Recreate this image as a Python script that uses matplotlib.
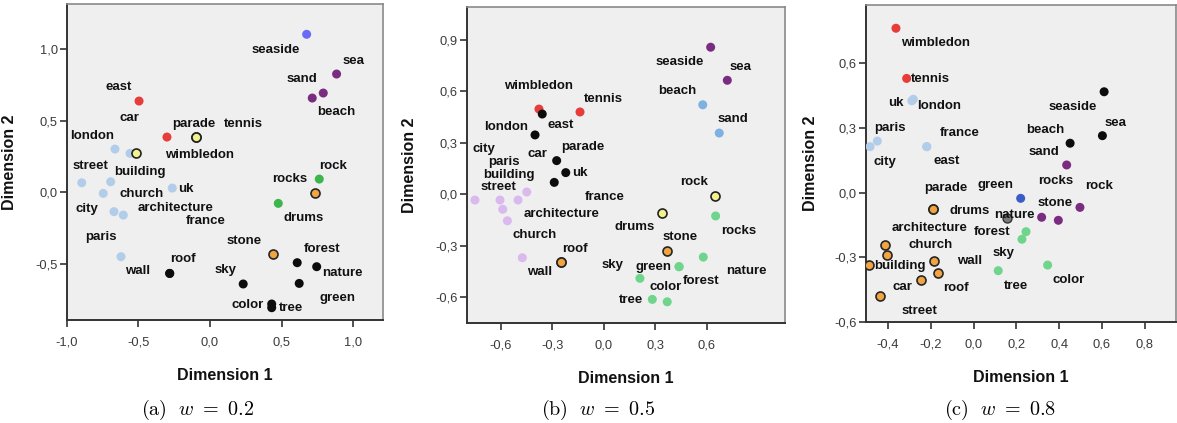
import matplotlib
matplotlib.use("Agg")
import matplotlib.pyplot as plt
from matplotlib.ticker import FixedLocator, FuncFormatter

# ---------------- data ----------------
# panel (a) w = 0.2
words_a = ["seaside", "sea", "sand", "beach", "east", "car", "parade", "tennis", "wimbledon",
           "london", "building", "street", "church", "city", "uk", "architecture", "france", "paris",
           "roof", "wall", "sky", "color", "tree", "forest", "nature", "green",
           "stone", "rocks", "rock", "drums"]
dim1_a = [0.675, 0.884, 0.714, 0.791, -0.495, -0.300, -0.100, -0.100, -0.516,
          -0.663, -0.558, -0.895, -0.693, -0.745, -0.263, -0.670, -0.605, -0.621,
          -0.281, -0.281, 0.232, 0.431, 0.431, 0.609, 0.745, 0.623,
          0.438, 0.733, 0.763, 0.477]
dim2_a = [1.105, 0.827, 0.659, 0.694, 0.638, 0.386, 0.384, 0.384, 0.272,
          0.302, 0.272, 0.066, 0.073, -0.008, 0.029, -0.136, -0.160, -0.451,
          -0.568, -0.568, -0.642, -0.782, -0.808, -0.493, -0.521, -0.638,
          -0.432, -0.003, 0.092, -0.078]
group_a = ["violet", "purple", "purple", "purple", "red", "red", "yellow", "yellow", "yellow",
           "lightblue", "lightblue", "lightblue", "lightblue", "lightblue", "lightblue", "lightblue",
           "lightblue", "lightblue",
           "black", "black", "black", "black", "black", "black", "black", "black",
           "orange", "orange", "green", "green"]

# panel (b) w = 0.5
words_b = ["seaside", "sea", "beach", "sand", "wimbledon", "tennis", "east", "london", "car", "uk",
           "parade", "street", "building", "paris", "city", "architecture", "church", "france",
           "rock", "drums", "stone", "roof", "wall", "rocks", "nature", "forest", "green", "sky",
           "tree", "color"]
dim1_b = [0.623, 0.720, 0.577, 0.673, -0.377, -0.138, -0.358, -0.400, -0.274, -0.221,
          -0.288, -0.604, -0.499, -0.588, -0.750, -0.561, -0.474, -0.448,
          0.648, 0.341, 0.370, -0.249, -0.249, 0.652, 0.580, 0.439, 0.439, 0.211,
          0.283, 0.370]
dim2_b = [0.858, 0.665, 0.522, 0.357, 0.497, 0.480, 0.468, 0.346, 0.196, 0.126,
          0.069, -0.034, -0.034, -0.088, -0.034, -0.155, -0.371, 0.013,
          -0.008, -0.110, -0.330, -0.394, -0.394, -0.127, -0.367, -0.423, -0.423, -0.491,
          -0.614, -0.628]
group_b = ["purple", "purple", "mblue", "mblue", "red", "red", "black", "black", "black", "black",
           "black", "lavender", "lavender", "lavender", "lavender", "lavender", "lavender", "lavender",
           "yellow", "yellow", "orange", "orange", "orange", "lgreen", "lgreen", "lgreen", "lgreen",
           "lgreen", "lgreen", "lgreen"]

# panel (c) w = 0.8
words_c = ["wimbledon", "tennis", "uk", "london", "paris", "city", "france", "east",
           "seaside", "sea", "beach", "sand", "rocks", "stone", "rock", "green", "nature",
           "forest", "sky", "color", "tree", "drums", "parade", "architecture", "church",
           "building", "wall", "roof", "car", "street"]
dim1_c = [-0.363, -0.313, -0.289, -0.282, -0.450, -0.484, -0.219, -0.219,
          0.610, 0.602, 0.451, 0.435, 0.318, 0.396, 0.497, 0.220, 0.155,
          0.245, 0.226, 0.346, 0.115, -0.191, -0.191, -0.414, -0.406,
          -0.489, -0.185, -0.168, -0.247, -0.438]
dim2_c = [0.763, 0.530, 0.426, 0.433, 0.239, 0.213, 0.213, 0.213,
          0.468, 0.264, 0.229, 0.128, -0.115, -0.129, -0.069, -0.027, -0.120,
          -0.182, -0.217, -0.337, -0.363, -0.077, -0.077, -0.244, -0.291,
          -0.338, -0.317, -0.375, -0.406, -0.481]
group_c = ["red", "red", "lightblue", "lightblue", "lightblue", "lightblue", "lightblue", "lightblue",
           "black", "black", "black", "purple", "purple", "purple", "purple", "dblue", "gray",
           "lgreen", "lgreen", "lgreen", "lgreen", "orange", "orange", "orange", "orange",
           "orange", "orange", "orange", "orange", "orange"]

xticks_a = [-1.0, -0.5, 0.0, 0.5, 1.0]
yticks_a = [-0.5, 0.0, 0.5, 1.0]
xticks_b = [-0.6, -0.3, 0.0, 0.3, 0.6]
yticks_b = [-0.6, -0.3, 0.0, 0.3, 0.6, 0.9]
xticks_c = [-0.4, -0.2, 0.0, 0.2, 0.4, 0.6, 0.8]
yticks_c = [-0.6, -0.3, 0.0, 0.3, 0.6]
captions = ["(a)", "(b)", "(c)"]
weights = ["0.2", "0.5", "0.8"]

# ---------------- styles ----------------
# label offsets (pixels: +x right, +y down) relative to the point
offsets_a = {"seaside": (-30.7, 15.7), "sea": (17.3, -13), "sand": (-10.6, -18.7), "beach": (12.7, 19.3),
             "east": (-20, -13.7), "car": (-37.7, -19), "parade": (-1.4, -13.3), "tennis": (47.6, -13.3),
             "wimbledon": (64, 1.7), "london": (-23, -13), "building": (10, 19), "street": (9, -17),
             "church": (31, 12.3), "city": (-16, 15.7), "uk": (13.4, 1.3), "architecture": (61.7, -3.4),
             "france": (82.4, 5.7), "paris": (-20, -19.4), "roof": (13, -14), "wall": (-32, -2.3),
             "sky": (-17.3, -14), "color": (-24, 1), "tree": (19.3, 0), "forest": (24.4, -13.4),
             "nature": (26, 6.6), "green": (38, 15), "stone": (-28.7, -13.3), "rocks": (-25.3, -13.7),
             "rock": (14, -13.3), "drums": (25.7, 15)}
offsets_b = {"seaside": (-30.7, 15), "sea": (13.4, -13.6), "beach": (-25.4, -14), "sand": (14, -14),
             "wimbledon": (-0.7, -22.7), "tennis": (23.3, -13.3), "east": (18.4, 11), "london": (-29, -7.7),
             "car": (-19.7, -6.7), "uk": (14.3, 0.3), "parade": (28.4, -35.3), "street": (-1.7, -13.3),
             "building": (-9.3, -25), "paris": (1.3, -47.3), "city": (9.3, -50.7),
             "architecture": (54, -6.7), "church": (12.4, -22.7), "france": (77.6, 5.3),
             "rock": (-21.3, -13.5), "drums": (-28, 14), "stone": (13, -13.4), "roof": (13.7, -13),
             "wall": (-21.3, 10.6), "rocks": (23.3, 14.7), "nature": (42.7, 14.3), "forest": (22.3, 14.3),
             "green": (-25.7, 0), "sky": (-27, -13), "tree": (-21.3, 0.4), "color": (-1.6, -14.4)}
offsets_c = {"wimbledon": (40, 14.4), "tennis": (23.3, 1), "uk": (-15.7, 2), "london": (26, 6.7),
             "paris": (12.7, -13.3), "city": (15.3, 15.6), "france": (32.6, -13.4), "east": (20, 14.3),
             "seaside": (-31.3, 15), "sea": (13.4, -13), "beach": (-25, -13.3), "sand": (-22.7, -12.7),
             "rocks": (14, -36.3), "stone": (-3.3, -17), "rock": (19.3, -21.3), "green": (-24.7, -13),
             "nature": (7.6, -3.3), "forest": (-33.7, 0.6), "sky": (-18.3, 13.7), "color": (21, 15),
             "tree": (17.7, 15.3), "drums": (37.3, 1.7), "parade": (13.3, -21.3),
             "architecture": (45, -16.7), "church": (44, -10), "building": (31, 0.7), "wall": (35.7, 0.6),
             "roof": (18.6, 14.4), "car": (-18, 7.3), "street": (39.3, 15)}

STYLE = {
    "lightblue": dict(fc="#b2cdea", ec="none", lw=0),
    "red": dict(fc="#e63c3a", ec="none", lw=0),
    "black": dict(fc="#0c0c0c", ec="none", lw=0),
    "purple": dict(fc="#7a2d80", ec="none", lw=0),
    "violet": dict(fc="#6a6af6", ec="none", lw=0),
    "green": dict(fc="#3cb54c", ec="none", lw=0),
    "lgreen": dict(fc="#6fd48c", ec="none", lw=0),
    "orange": dict(fc="#f2a441", ec="#262626", lw=1.2),
    "yellow": dict(fc="#f4f28c", ec="#222222", lw=1.2),
    "lavender": dict(fc="#dab9ee", ec="none", lw=0),
    "mblue": dict(fc="#7eb0e2", ec="none", lw=0),
    "dblue": dict(fc="#3a5cc6", ec="none", lw=0),
    "gray": dict(fc="#7a7a7a", ec="#333333", lw=1.0),
}
ZORD = {"orange": 4, "yellow": 4, "gray": 2}

W, H = 1177, 423
plt.rcParams["font.family"] = ["Liberation Sans", "DejaVu Sans"]
plt.rcParams["mathtext.fontset"] = "cm"

fig = plt.figure(figsize=(W / 100, H / 100), dpi=100)

# axes boxes in pixels: left, top, right, bottom
boxes = [(66.7, 4.0, 383.3, 320.0), (466.7, 7.3, 785.0, 322.7), (866.0, 5.0, 1176.0, 321.7)]
xlims = [(-1.0, 1.21), (-0.798, 1.056), (-0.503, 0.946)]
ylims = [(-0.894, 1.317), (-0.750, 1.091), (-0.600, 0.871)]
cap_x = [198, 598.5, 1000.5]

panels = [(words_a, dim1_a, dim2_a, group_a, offsets_a, xticks_a, yticks_a),
          (words_b, dim1_b, dim2_b, group_b, offsets_b, xticks_b, yticks_b),
          (words_c, dim1_c, dim2_c, group_c, offsets_c, xticks_c, yticks_c)]


def fmt(v, pos=None):
    s = f"{v:.1f}"
    if s == "-0.0":
        s = "0.0"
    return s.replace(".", ",")


for i, (words, d1, d2, grp, offs, xt, yt) in enumerate(panels):
    l, t, r, b = boxes[i]
    ax = fig.add_axes([l / W, (H - b) / H, (r - l) / W, (b - t) / H])
    ax.set_facecolor("#efefef")
    ax.set_xlim(*xlims[i])
    ax.set_ylim(*ylims[i])
    for k in range(len(words)):
        st = STYLE[grp[k]]
        ax.scatter([d1[k]], [d2[k]], s=42, facecolors=st["fc"], edgecolors=st["ec"],
                   linewidths=st["lw"], zorder=ZORD.get(grp[k], 3))
    for k, w in enumerate(words):
        dx, dy = offs[w]
        ax.annotate(w, (d1[k], d2[k]), xytext=(dx * 0.72, -dy * 0.72), textcoords="offset points",
                    ha="center", va="center", fontsize=9.5, fontweight="bold", color="#111111",
                    zorder=6)
    ax.xaxis.set_major_locator(FixedLocator(xt))
    ax.yaxis.set_major_locator(FixedLocator(yt))
    ax.xaxis.set_major_formatter(FuncFormatter(fmt))
    ax.yaxis.set_major_formatter(FuncFormatter(fmt))
    ax.tick_params(axis="both", direction="out", length=5, width=1.2, color="#333333",
                   labelcolor="#3a3a3a", labelsize=9.3)
    ax.tick_params(axis="x", pad=7)
    ax.tick_params(axis="y", pad=1.5)
    for side in ("top", "right"):
        ax.spines[side].set_color("#8a8a8a")
        ax.spines[side].set_linewidth(1.2)
    for side in ("left", "bottom"):
        ax.spines[side].set_color("#333333")
        ax.spines[side].set_linewidth(1.4)
    ax.set_xlabel("Dimension 1", fontsize=11.5, fontweight="bold", color="#111111")
    ax.set_ylabel("Dimension 2", fontsize=11.5, fontweight="bold", color="#111111")
    ax.xaxis.set_label_coords(0.5, -0.153)
    ax.yaxis.set_label_coords(-0.156, 0.5)
    fig.text(cap_x[i] / W, (H - 410) / H,
             r"$\mathrm{" + captions[i] + r"}\ \ w\ =\ " + weights[i] + "$",
             ha="center", va="center", fontsize=14.5)

fig.savefig("out.png", dpi=100)
